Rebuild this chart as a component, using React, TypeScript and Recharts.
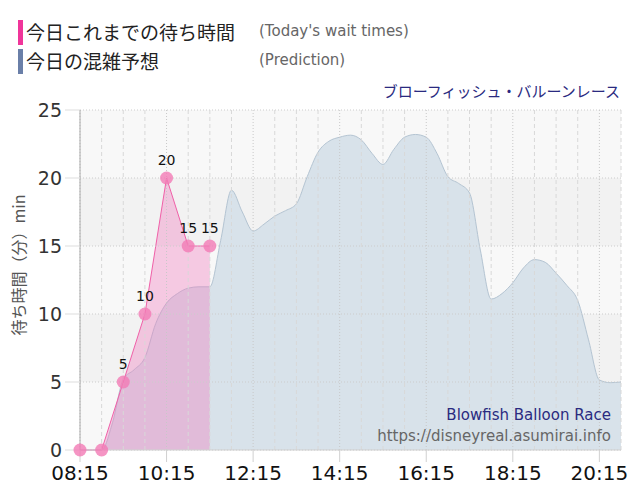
import React from 'react';
import {
  ComposedChart, Area, XAxis, YAxis, CartesianGrid, ReferenceLine, ReferenceArea, LabelList,
} from 'recharts';

const predTimes = [
  '08:15','08:30','08:45','09:00','09:15','09:30','09:45','10:00','10:15','10:30','10:45','11:00',
  '11:15','11:30','11:45','12:00','12:15','12:30','12:45','13:00','13:15','13:30','13:45','14:00',
  '14:15','14:30','14:45','15:00','15:15','15:30','15:45','16:00','16:15','16:30','16:45','17:00',
  '17:15','17:30','17:45','18:00','18:15','18:30','18:45','19:00','19:15','19:30','19:45','20:00',
  '20:15','20:30','20:45',
];
const predValues = [
  0, 0, 0, 2, 5.2, 5.9, 6.8, 9.3, 10.8, 11.5, 11.9, 12.0,
  12.0, 15.4, 19.1, 17.5, 16.1, 16.6, 17.2, 17.6, 18.1, 20.1, 21.9, 22.7,
  23.0, 23.15, 22.8, 21.8, 21.0, 22.1, 23.0, 23.2, 23.0, 21.8, 20.1, 19.6,
  18.9, 14.7, 11.1, 11.5, 12.3, 13.4, 14.0, 13.8, 13.0, 12.1, 11.0, 8.1,
  5.15, 4.95, 5.0,
];
const actualTimes = ['08:15','08:45','09:15','09:45','10:15','10:45','11:15'];
const actualValues = [0, 0, 5, 10, 20, 15, 15];

const xTickLabels = ['08:15','10:15','12:15','14:15','16:15','18:15','20:15'];
const minorGridTimes = [
  '08:45','09:15','09:45','10:45','11:15','11:45','12:45','13:15','13:45','14:45','15:15','15:45',
  '16:45','17:15','17:45','18:45','19:15','19:45','20:45',
];
const yTicks = [0, 5, 10, 15, 20, 25];
const darkBands = [[5, 10], [15, 20]];

const data = predTimes.map((t, i) => {
  const k = actualTimes.indexOf(t);
  return { time: t, pred: predValues[i], actual: k >= 0 ? actualValues[k] : null };
});

const numFont = '"DejaVu Sans", Verdana, sans-serif';
const jpFont = '"Noto Sans CJK JP", sans-serif';

const renderLabel = (props: any) => {
  const { x, y, value } = props;
  if (value === null || value === undefined || value === 0) return null;
  return (
    <text x={x} y={y - 13} textAnchor="middle" fontSize={14} fontFamily={numFont} fill="#111">
      {value}
    </text>
  );
};

export default function App() {
  return (
    <div style={{ position: 'absolute', left: 0, top: 0, width: 640, height: 500, background: '#fff' }}>
      <ComposedChart
        width={640}
        height={500}
        data={data}
        margin={{ top: 110, right: 19, bottom: 0, left: 0 }}
      >
        <CartesianGrid horizontal={false} vertical={false} fill="#f8f8f8" />
        {darkBands.map((b, i) => (
          <ReferenceArea key={'b' + i} y1={b[0]} y2={b[1]} fill="#f2f2f2" fillOpacity={1} stroke="none" />
        ))}
        {yTicks.map((v) => (
          <ReferenceLine key={'h' + v} y={v} stroke="#cccccc" strokeDasharray="1 2" />
        ))}
        {minorGridTimes.map((t) => (
          <ReferenceLine key={'m' + t} x={t} stroke="#d8d8d8" strokeDasharray="4 3" />
        ))}
        {xTickLabels.map((t) => (
          <ReferenceLine key={'M' + t} x={t} stroke="#c8c8c8" strokeDasharray="1 2" />
        ))}
        <XAxis
          dataKey="time"
          scale="point"
          padding={{ left: 0, right: 0 }}
          interval={7}
          height={50}
          tickSize={12}
          tickMargin={4}
          tickLine={{ stroke: '#d0d0d0' }}
          axisLine={{ stroke: '#d0d0d0' }}
          tick={{ fontSize: 20, fontFamily: numFont, fill: '#111' }}
        />
        <YAxis
          domain={[0, 25]}
          ticks={yTicks}
          width={80}
          tickSize={15}
          tickMargin={3}
          tickLine={{ stroke: '#dddddd' }}
          axisLine={{ stroke: '#aaaaaa' }}
          tick={{ fontSize: 19, fontFamily: numFont, fill: '#333' }}
        />
        <Area
          type="monotone"
          dataKey="pred"
          stroke="#b4c4d2"
          strokeWidth={1}
          fill="#d8e2ea"
          fillOpacity={1}
          dot={false}
          activeDot={false}
          isAnimationActive={false}
        />
        <Area
          type="linear"
          dataKey="actual"
          connectNulls
          stroke="#f060a8"
          strokeWidth={1}
          fill="#f07cbe"
          fillOpacity={0.38}
          dot={{ r: 6.5, fill: '#f27ab5', fillOpacity: 0.8, stroke: 'none' }}
          activeDot={false}
          isAnimationActive={false}
        >
          <LabelList dataKey="actual" content={renderLabel} />
        </Area>
      </ComposedChart>

      {/* legend */}
      <div style={{ position: 'absolute', left: 18, top: 20, width: 5, height: 25, background: '#f0359a' }} />
      <div style={{ position: 'absolute', left: 26, top: 19, fontFamily: jpFont, fontSize: 19, color: '#222', lineHeight: '26px', whiteSpace: 'nowrap' }}>
        今日これまでの待ち時間
      </div>
      <div style={{ position: 'absolute', left: 259, top: 21, fontFamily: numFont, fontSize: 15, color: '#666', lineHeight: '20px', whiteSpace: 'nowrap' }}>
        (Today's wait times)
      </div>
      <div style={{ position: 'absolute', left: 18, top: 49, width: 5, height: 25, background: '#6a7fa8' }} />
      <div style={{ position: 'absolute', left: 26, top: 48, fontFamily: jpFont, fontSize: 19, color: '#222', lineHeight: '26px', whiteSpace: 'nowrap' }}>
        今日の混雑予想
      </div>
      <div style={{ position: 'absolute', left: 259, top: 50, fontFamily: numFont, fontSize: 15, color: '#666', lineHeight: '20px', whiteSpace: 'nowrap' }}>
        (Prediction)
      </div>

      {/* title */}
      <div style={{ position: 'absolute', right: 20, top: 80, fontFamily: jpFont, fontSize: 15, color: '#2a2a80', lineHeight: '22px', whiteSpace: 'nowrap' }}>
        ブローフィッシュ・バルーンレース
      </div>

      {/* y axis title */}
      <div style={{ position: 'absolute', left: 18, top: 265, width: 0, height: 0 }}>
        <div style={{ position: 'absolute', transform: 'translate(-50%, -50%) rotate(-90deg)', fontFamily: jpFont, fontSize: 16, color: '#555', whiteSpace: 'nowrap', lineHeight: '20px' }}>
          待ち時間（分）min
        </div>
      </div>

      {/* watermark */}
      <div style={{ position: 'absolute', right: 29, top: 404, fontFamily: numFont, fontSize: 15, color: '#2a2a80', lineHeight: '22px', whiteSpace: 'nowrap', textAlign: 'right' }}>
        Blowfish Balloon Race
      </div>
      <div style={{ position: 'absolute', right: 29, top: 425, fontFamily: numFont, fontSize: 15, color: '#666', lineHeight: '22px', whiteSpace: 'nowrap', textAlign: 'right' }}>
        https://disneyreal.asumirai.info
      </div>
    </div>
  );
}
